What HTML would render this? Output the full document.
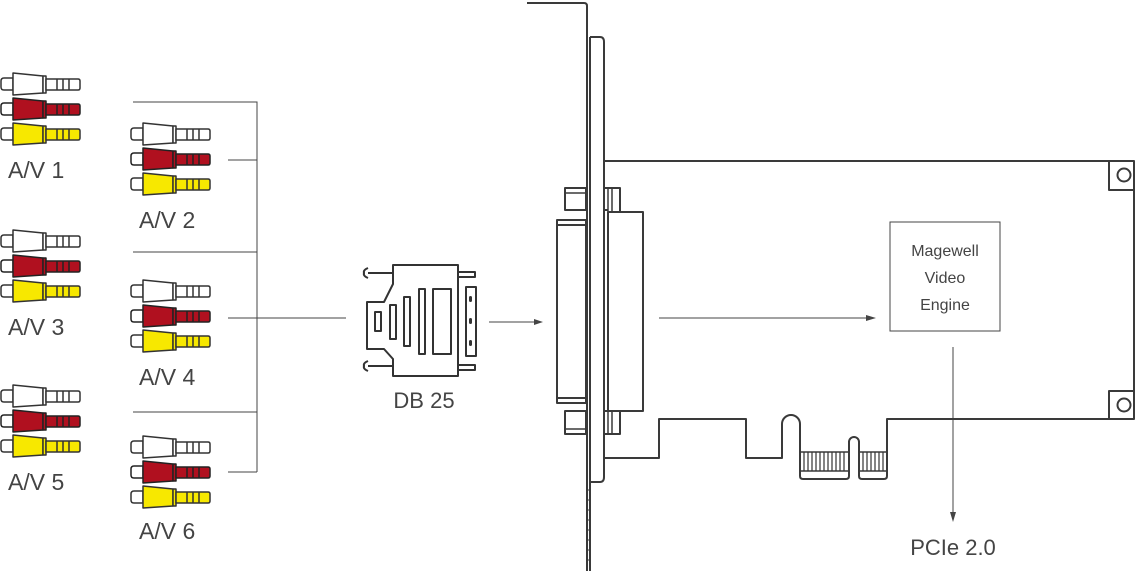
<!DOCTYPE html>
<html><head><meta charset="utf-8"><style>
html,body{margin:0;padding:0;background:#fff;}
svg{display:block;}
text{font-family:"Liberation Sans",sans-serif;fill:#444;}
</style></head><body>
<svg width="1135" height="571" viewBox="0 0 1135 571" xmlns="http://www.w3.org/2000/svg">
<defs>
<g id="pw" stroke="#333" stroke-width="1.5" stroke-linejoin="round">
  <path d="M13,-6 H4 Q1,-6 1,-3 V3 Q1,6 4,6 H13 Z" fill="#fff"/>
  <path d="M13,-11 L43,-8 V9 L13,11 Z" fill="#fff"/>
  <rect x="43" y="-8" width="3" height="17" fill="#fff"/>
  <path d="M46,-5 H78 Q80,-5 80,-3 V4 Q80,6 78,6 H46 Z" fill="#fff"/>
  <path d="M57,-5 V6 M63,-5 V6 M69,-5 V6" fill="none"/>
</g>
<g id="pr" stroke="#222" stroke-width="1.5" stroke-linejoin="round">
  <path d="M13,-6 H4 Q1,-6 1,-3 V3 Q1,6 4,6 H13 Z" fill="#fff"/>
  <path d="M13,-11 L43,-8 V9 L13,11 Z" fill="#b0101f"/>
  <rect x="43" y="-8" width="3" height="17" fill="#b0101f"/>
  <path d="M46,-5 H78 Q80,-5 80,-3 V4 Q80,6 78,6 H46 Z" fill="#b0101f"/>
  <path d="M57,-5 V6 M63,-5 V6 M69,-5 V6" fill="none"/>
</g>
<g id="py" stroke="#333" stroke-width="1.5" stroke-linejoin="round">
  <path d="M13,-6 H4 Q1,-6 1,-3 V3 Q1,6 4,6 H13 Z" fill="#fff"/>
  <path d="M13,-11 L43,-8 V9 L13,11 Z" fill="#f7e800"/>
  <rect x="43" y="-8" width="3" height="17" fill="#f7e800"/>
  <path d="M46,-5 H78 Q80,-5 80,-3 V4 Q80,6 78,6 H46 Z" fill="#f7e800"/>
  <path d="M57,-5 V6 M63,-5 V6 M69,-5 V6" fill="none"/>
</g>
<g id="grp">
  <use href="#pw" y="0"/><use href="#pr" y="25"/><use href="#py" y="50"/>
</g>
</defs>

<use href="#grp" x="0" y="84"/>
<use href="#grp" x="130" y="134"/>
<use href="#grp" x="0" y="241"/>
<use href="#grp" x="130" y="291"/>
<use href="#grp" x="0" y="396"/>
<use href="#grp" x="130" y="447"/>

<g font-size="23">
<text x="8" y="178">A/V 1</text>
<text x="139" y="228">A/V 2</text>
<text x="8" y="335">A/V 3</text>
<text x="139" y="385">A/V 4</text>
<text x="8" y="490">A/V 5</text>
<text x="139" y="539">A/V 6</text>
</g>

<g stroke="#444" stroke-width="1" fill="none">
<path d="M133,102 H257 V472"/>
<path d="M228,160 H257"/>
<path d="M133,252 H257"/>
<path d="M228,318 H346"/>
<path d="M133,412 H257"/>
<path d="M228,472 H257"/>
</g>

<g stroke="#333" stroke-width="2" fill="#fff" stroke-linejoin="round">
<path d="M368,273 H393 M368,366 H393"/>
<path d="M368,268 Q363,270 364,273 Q363,276 368,278 M368,361 Q363,363 364,366 Q363,369 368,371" fill="none"/>
<path d="M393,265 H458 V376 H393 V359 L384,349 H367 V302 H384 L393,284 Z"/>
<rect x="458" y="272" width="17" height="5"/>
<rect x="458" y="365" width="17" height="5"/>
<rect x="466" y="287" width="10" height="69"/>
<rect x="375" y="312" width="6" height="19"/>
<rect x="390" y="305" width="6" height="34"/>
<rect x="404" y="297" width="6" height="49"/>
<rect x="419" y="289" width="6" height="65"/>
<rect x="433" y="289" width="18" height="65"/>
</g>
<g fill="#333"><rect x="469" y="296" width="3" height="6" rx="1.5"/><rect x="469" y="318" width="3" height="6" rx="1.5"/><rect x="469" y="340" width="3" height="6" rx="1.5"/></g>
<text x="424" y="408" font-size="22" text-anchor="middle">DB 25</text>

<g stroke="#444" stroke-width="1" fill="none">
<path d="M489,322 H536"/>
<path d="M659,318 H868"/>
<path d="M953,347 V514"/>
</g>
<g fill="#444">
<path d="M543,322 L534,319 V325 Z"/>
<path d="M876,318 L866,315 V321 Z"/>
<path d="M953,522 L950,512 H956 Z"/>
</g>

<g stroke="#3a3a3a" stroke-width="2" fill="none" stroke-linejoin="round">
<path d="M527,3 H584 Q587,3 587,6 V571"/>
<path d="M590,37 V571"/>
<path d="M590,37 H600 Q604,37 604,42 V477 Q604,482 600,482 H590"/>
<path d="M587,490 H590 M587,500 H590 M587,510 H590 M587,520 H590 M587,530 H590 M587,540 H590 M587,550 H590 M587,560 H590" stroke-width="1"/>
<rect x="557" y="220" width="29" height="183"/>
<path d="M557,225 H586 M557,398 H586"/>
<rect x="565" y="188" width="21" height="22"/>
<rect x="565" y="411" width="21" height="23"/>
<path d="M565,193 H586 M565,429 H586" stroke-width="1.5"/>
<rect x="608" y="212" width="35" height="199"/>
<path d="M604,188 H620 V212 M604,210 H608 M604,411 H608 M620,411 V434 H604"/>
<path d="M608,188 V212 M612,188 V212 M608,411 V434 M612,411 V434" stroke-width="1.5"/>
<path d="M604,161 H1134 V419 H887 V452"/>
<path d="M604,458 H659 V419 H746 V458 H782 V424 A9,9 0 0 1 800,424 V476 Q800,479 803,479 H846 Q849,479 849,476 V442 A5,5 0 0 1 859,442 V476 Q859,479 862,479 H884 Q887,479 887,476 V452"/>
<path d="M1109,161 V190 H1134 M1109,419 V391 H1134"/>
<circle cx="1124" cy="175" r="6.5"/>
<circle cx="1124" cy="405" r="6.5"/>
<path d="M800,452 H849 M859,452 H887 M800,471 H849 M859,471 H887" stroke-width="1.5"/>
</g>
<g stroke="#333" stroke-width="1.2">
<path d="M804,452 V471 M808,452 V471 M812,452 V471 M816,452 V471 M820,452 V471 M824,452 V471 M828,452 V471 M832,452 V471 M836,452 V471 M840,452 V471 M844,452 V471 M863,452 V471 M867,452 V471 M871,452 V471 M875,452 V471 M879,452 V471 M883,452 V471"/>
</g>

<rect x="890" y="222" width="110" height="109" fill="#fff" stroke="#444" stroke-width="1"/>
<g font-size="16" text-anchor="middle">
<text x="945" y="256">Magewell</text>
<text x="945" y="283">Video</text>
<text x="945" y="310">Engine</text>
</g>
<text x="953" y="555" font-size="22" text-anchor="middle">PCIe 2.0</text>
</svg>
</body></html>
